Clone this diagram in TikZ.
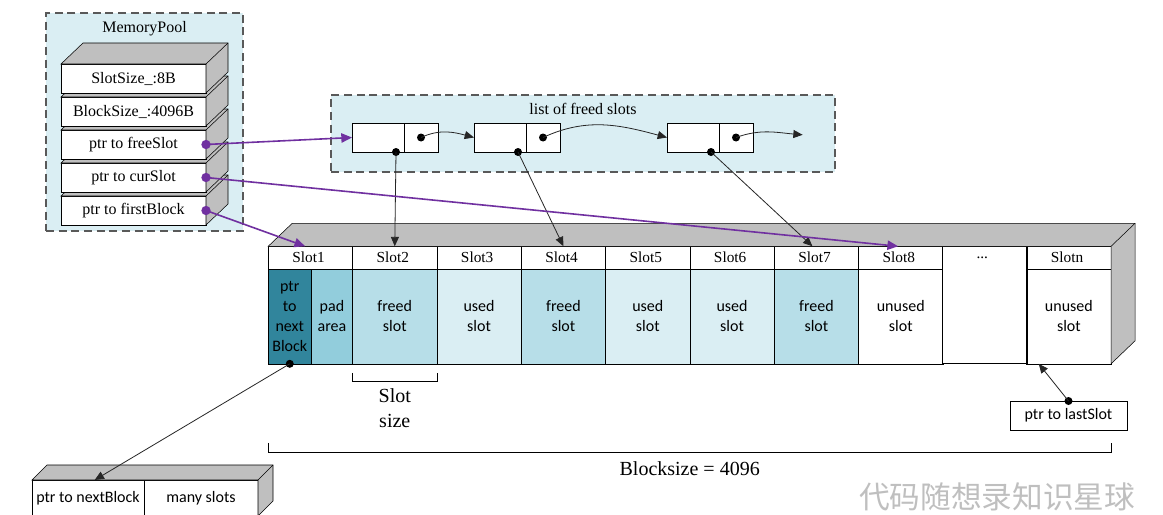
\documentclass[tikz,border=0pt]{standalone}
\usepackage{fontspec}
\setmainfont{Liberation Serif}
\setsansfont{Carlito}
\newfontfamily\cjkfont{Noto Sans CJK SC}
\usetikzlibrary{matrix,positioning,arrows.meta}

\definecolor{poolbg}{HTML}{DAEEF3}
\definecolor{nextcol}{HTML}{31859C}
\definecolor{padcol}{HTML}{92CDDC}
\definecolor{freedcol}{HTML}{B7DEE8}
\definecolor{usedcol}{HTML}{DAEEF3}
\definecolor{facecol}{HTML}{BFBFBF}
\definecolor{ptrcol}{HTML}{7030A0}

\tikzset{
  face/.style={draw, fill=facecol},
  dashbox/.style={draw=black!65, dash pattern=on 6pt off 3.5pt, line width=0.9pt, fill=poolbg, outer sep=0, inner sep=0},
  poolrow/.style={draw, fill=white, minimum width=108.75pt, minimum height=21.75pt, outer sep=0, inner sep=0, font=\fontsize{12}{14}\selectfont},
  lcell/.style={draw, fill=white, minimum height=21.75pt, outer sep=0, inner sep=0, font=\sffamily\fontsize{12}{15}\selectfont},
  ptr/.style={ptrcol, line width=1.2pt, -{Triangle[length=8pt,width=7pt]}},
  link/.style={black!85, line width=0.6pt, -{Triangle[length=7pt,width=6pt]}},
}

\begin{document}
\begin{tikzpicture}[x=0.75pt, y=-0.75pt]
    \fill[white] (0,0) rectangle (1163,514);
    \useasboundingbox (0,0) rectangle (1163,514);

    \node[dashbox, minimum width=147.75pt, minimum height=163.5pt, anchor=north west] (mp) at (46,13) {};
    \node[below=3pt of mp.north, font=\fontsize{12}{14}\selectfont] (mptitle) {MemoryPool};
    \node[dashbox, minimum width=378pt, minimum height=57.75pt, anchor=north west] (fl) at (331,95) {};
    \node[below=3pt of fl.north, font=\fontsize{12}{14}\selectfont] (fltitle) {list of freed slots};

    % memory pool fields, bottom one first
    \foreach \i/\t in {5/ptr to firstBlock, 4/ptr to curSlot, 3/ptr to freeSlot, 2/BlockSize\_:4096B, 1/SlotSize\_:8B} {
      \node[poolrow, anchor=north west] (p\i) at (61,{31+33*\i}) {\t};
      \filldraw[face] (p\i.north west) -- ++(22,-21) -- ++(145,0) -- ++(0,29) -- (p\i.south east) -- (p\i.north east) -- cycle;
      \draw (p\i.north east) -- ++(22,-21);
    }

    % freed list
    \node[lcell, minimum width=39pt, anchor=north west] (d1) at (352,123) {};
    \node[lcell, minimum width=25.5pt, right=0 of d1] (n1) {};
    \node[lcell, minimum width=39pt, right=27pt of n1] (d2) {};
    \node[lcell, minimum width=25.5pt, right=0 of d2] (n2) {};
    \node[lcell, minimum width=39pt, right=80.25pt of n2] (d3) {};
    \node[lcell, minimum width=25.5pt, right=0 of d3] (n3) {};
    \coordinate (lend) at ([xshift=50pt,yshift=2pt]n3.center);

    \matrix (M) [matrix of nodes, anchor=north west, inner sep=0, outer sep=0,
        nodes={draw, fill=white, minimum width=63.25pt, outer sep=0, inner sep=0, anchor=center, align=center,
               font=\sffamily\fontsize{12}{15}\selectfont},
        row 1/.style={nodes={minimum height=16.9pt, font=\rmfamily\fontsize{11.5}{14}\selectfont}},
        row 2/.style={nodes={minimum height=71.25pt, text width=42pt}},
        column 9/.style={nodes={draw=none}},
        row sep=-\pgflinewidth, column sep=-\pgflinewidth, nodes in empty cells,
        fr/.style={fill=freedcol}, us/.style={fill=usedcol}
      ] at (268,246)
      {
        Slot1 & Slot2 & Slot3 & Slot4 & Slot5 & Slot6 & Slot7 & Slot8 & ... & Slotn \\
        & |[fr]| freed slot & |[us]| used slot & |[fr]| freed slot & |[us]| used slot
        & |[us]| used slot & |[fr]| freed slot & unused slot & & unused slot \\
      };
    \draw[line width=0.9pt] (M-1-9.north west) rectangle (M-2-9.south east);
    \node[draw, fill=nextcol, minimum width=32.25pt, minimum height=71.25pt, anchor=north west, outer sep=0, inner sep=0,
          align=center, font=\sffamily\fontsize{12}{15}\selectfont] (nxt) at (M-2-1.north west) {ptr\\to\\next\\Block};
    \node[draw, fill=padcol, minimum width=31pt, minimum height=71.25pt, anchor=north east, outer sep=0, inner sep=0,
          align=center, font=\sffamily\fontsize{12}{15}\selectfont] (pad) at (M-2-1.north east) {pad\\area};
    \filldraw[face] (M-1-1.north west) -- ++(24,-23) -- ([shift={(24,-23)}]M-1-10.north east)
      -- ([shift={(24,-23)}]M-2-10.south east) -- (M-2-10.south east) -- (M-1-10.north east) -- cycle;
    \draw (M-1-10.north east) -- ++(24,-23);

    \draw ([yshift=-6.75pt]M-2-2.south west) -- ([yshift=-12.75pt]M-2-2.south west) -- ([yshift=-12.75pt]M-2-2.south east)
      node[midway, below=2pt, align=center, font=\fontsize{15}{18.75}\selectfont] (slsz) {Slot\\size} -- ([yshift=-6.75pt]M-2-2.south east);
    \draw ([yshift=-59.25pt]M-2-1.south west) -- ([yshift=-66pt]M-2-1.south west) -- ([yshift=-66pt]M-2-10.south east)
      node[midway, below=4pt, font=\fontsize{15}{18}\selectfont] (blsz) {Blocksize = 4096} -- ([yshift=-59.25pt]M-2-10.south east);

    \node[lcell, minimum width=87.75pt] (ls) at (1068.5,415.5) {ptr to lastSlot};

    \node[lcell, minimum width=84pt, minimum height=27pt, anchor=north west] (nb) at (32,480) {ptr to nextBlock};
    \node[lcell, minimum width=85.5pt, minimum height=27pt, right=0 of nb] (ms) {many slots};
    \filldraw[face] (nb.north west) -- ++(15,-15) -- ++(226,0) -- ++(0,36) -- (ms.south east) -- (ms.north east) -- cycle;
    \draw (ms.north east) -- ++(15,-15);

    % pointers
    \fill (n1.center) circle (3pt) (n2.center) circle (3pt) (n3.center) circle (3pt);
    \draw[link] (n1.center) to[out=25, in=165] (d2.west);
    \draw[link] (n2.center) to[out=25, in=165] (d3.west);
    \draw[link] (n3.center) to[out=20, in=175] (lend);
    \fill ([xshift=-6pt]d1.south east) circle (3pt) ([xshift=-6pt]d2.south east) circle (3pt) ([xshift=-6pt]d3.south east) circle (3pt);
    \draw[link] ([xshift=-6pt]d1.south east) -- (M-1-2.north);
    \draw[link] ([xshift=-6pt]d2.south east) -- (M-1-4.north);
    \draw[link] ([xshift=-6pt]d3.south east) -- ([xshift=-3pt]M-1-7.north);
    \fill (nxt.south) circle (3pt);
    \draw[link] (nxt.south) -- ([xshift=5pt]nb.north);
    \fill (ls.north) circle (3pt);
    \draw[link] (ls.north) -- ([xshift=9pt]M-2-10.south west);

    \draw[ptr] (p4.east) -- ([xshift=-2pt]M-1-8.north);
    \draw[ptr] (p5.east) -- ([xshift=-4pt]M-1-1.north);
    \draw[ptr] (p3.east) -- (d1.west);
    \fill[ptrcol] (p3.east) circle (3.5pt) (p4.east) circle (3.5pt) (p5.east) circle (3.5pt);

    \node[font=\cjkfont\fontsize{23}{23}\selectfont, text=black!25] (wm) at (997,497) {代码随想录知识星球};
\end{tikzpicture}
\end{document}
